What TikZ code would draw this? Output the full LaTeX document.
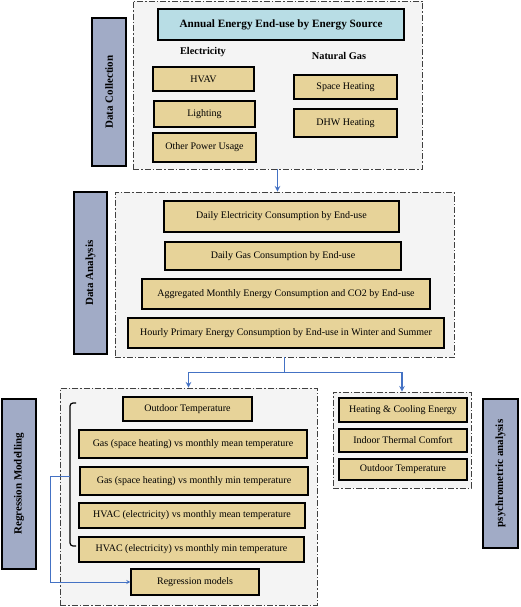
\documentclass[tikz,border=0pt]{standalone}
\usepackage{fontspec}
\setmainfont{Liberation Serif}
\usetikzlibrary{calc}

\definecolor{tan}{RGB}{231,211,153}
\definecolor{slate}{RGB}{161,171,198}
\definecolor{paleblue}{RGB}{184,221,229}
\definecolor{panelgray}{RGB}{244,244,244}
\definecolor{flowblue}{RGB}{68,114,196}

\begin{document}
\begin{tikzpicture}[x=1pt,y=-1pt,
    frame/.style={draw=black!75, fill=panelgray, line width=0.8pt,
        dash pattern=on 6pt off 2pt on 1.5pt off 2pt, inner sep=0pt},
    sidebar/.style={draw=black, fill=slate, line width=1.6pt, rotate=90,
        inner sep=0pt, font=\fontsize{11}{13}\selectfont\bfseries},
    titlebox/.style={draw=black, fill=paleblue, line width=1.3pt, inner sep=0pt,
        font=\fontsize{11.2}{13}\selectfont\bfseries},
    item/.style={draw=black, fill=tan, line width=1.3pt, inner sep=0pt,
        font=\fontsize{10}{12}\selectfont},
    heading/.style={inner sep=0pt, font=\fontsize{10.3}{12}\selectfont\bfseries},
    flow/.style={draw=flowblue, line width=1.5pt, ->, >=stealth},
    flowline/.style={draw=flowblue, line width=1.5pt},
    thinflow/.style={draw=flowblue, line width=0.8pt, ->, >=stealth}]
    \useasboundingbox (0,0) rectangle (520,607);

    % Data collection:
    % The dashed panel goes first, so that the boxes sit on top of it
    \node[frame, minimum width=289pt, minimum height=168pt] (dcframe) at (277.5,85) {};
    \node[sidebar, minimum width=148pt, minimum height=34pt] (dclabel) at (109,92) {Data Collection};
    \node[titlebox, minimum width=246pt, minimum height=31pt] (dctitle) at (281,24.5) {Annual Energy End-use by Energy Source};
    \node[heading] (elec) at (203,52) {Electricity};
    \node[item, minimum width=101pt, minimum height=24pt] (hvav) at (203.5,79) {HVAV};
    \node[item, minimum width=101pt, minimum height=26pt] (light) at (204.5,114) {Lighting};
    \node[item, minimum width=103pt, minimum height=29pt] (other) at (204.5,147.5) {Other Power Usage};
    \node[heading] (gas) at (339,56) {Natural Gas};
    \node[item, minimum width=103pt, minimum height=24pt] (space) at (345.5,87) {Space Heating};
    \node[item, minimum width=103pt, minimum height=28pt] (dhw) at (345.5,123) {DHW Heating};

    % Data analysis:
    \node[frame, minimum width=339pt, minimum height=165pt] (daframe) at (284.5,274.5) {};
    \node[sidebar, minimum width=162pt, minimum height=33pt] (dalabel) at (90.5,273) {Data Analysis};
    \node[item, minimum width=235pt, minimum height=31pt] (dailyel) at (281.5,216.5) {Daily Electricity Consumption by End-use};
    \node[item, minimum width=236pt, minimum height=28pt] (dailygas) at (283,256) {Daily Gas Consumption by End-use};
    \node[item, minimum width=288pt, minimum height=30pt] (aggr) at (286,294) {Aggregated Monthly Energy Consumption and CO2 by End-use};
    \node[item, minimum width=316pt, minimum height=30pt] (hourly) at (286,333) {Hourly Primary Energy Consumption by End-use in Winter and Summer};

    % Regression modelling:
    \node[frame, minimum width=257pt, minimum height=217pt] (rgframe) at (188.5,496.5) {};
    \node[sidebar, minimum width=170pt, minimum height=34pt] (rglabel) at (19,484) {Regression Modelling};
    \node[item, minimum width=129pt, minimum height=24pt] (outdoor) at (187.5,409) {Outdoor Temperature};
    \node[item, minimum width=228pt, minimum height=28pt] (gasmean) at (193,444) {Gas (space heating) vs monthly mean temperature};
    \node[item, minimum width=228pt, minimum height=28pt] (gasmin) at (194,481) {Gas (space heating) vs monthly min temperature};
    \node[item, minimum width=226pt, minimum height=25pt] (hvacmean) at (192,515.5) {HVAC (electricity) vs monthly mean temperature};
    \node[item, minimum width=225pt, minimum height=25pt] (hvacmin) at (191.5,549.5) {HVAC (electricity) vs monthly min temperature};
    \node[item, minimum width=128pt, minimum height=26pt] (regmod) at (195,582) {Regression models};
    % The bracket in front of the five boxes
    \draw[line width=1.2pt, rounded corners=3pt] (76,403) -- (70,403) -- (70,546) -- (76,546);
    \coordinate (bracemid) at (70,476);

    % Psychrometric analysis:
    \node[frame, minimum width=138pt, minimum height=96pt] (psframe) at (402,440) {};
    \node[item, minimum width=128pt, minimum height=24pt] (heatcool) at (403,410) {Heating \& Cooling Energy};
    \node[item, minimum width=128pt, minimum height=23pt] (comfort) at (403,440.5) {Indoor Thermal Comfort};
    \node[item, minimum width=128pt, minimum height=21pt] (outdoortwo) at (403,469.5) {Outdoor Temperature};
    \node[sidebar, minimum width=149pt, minimum height=35pt] (pslabel) at (500.5,473.5) {psychrometric analysis};

    % Connectors:
    \draw[flow] (dcframe.south) -- (dcframe.south |- daframe.north);
    \draw[flowline] (daframe.south) -- ++(0,15) coordinate (split);
    \draw[flow] (split) -| (rgframe.north);
    \draw[flow] (split) -| (psframe.north);
    \draw[thinflow] (bracemid) -- ++(-20,0) |- (regmod.west);
\end{tikzpicture}
\end{document}
